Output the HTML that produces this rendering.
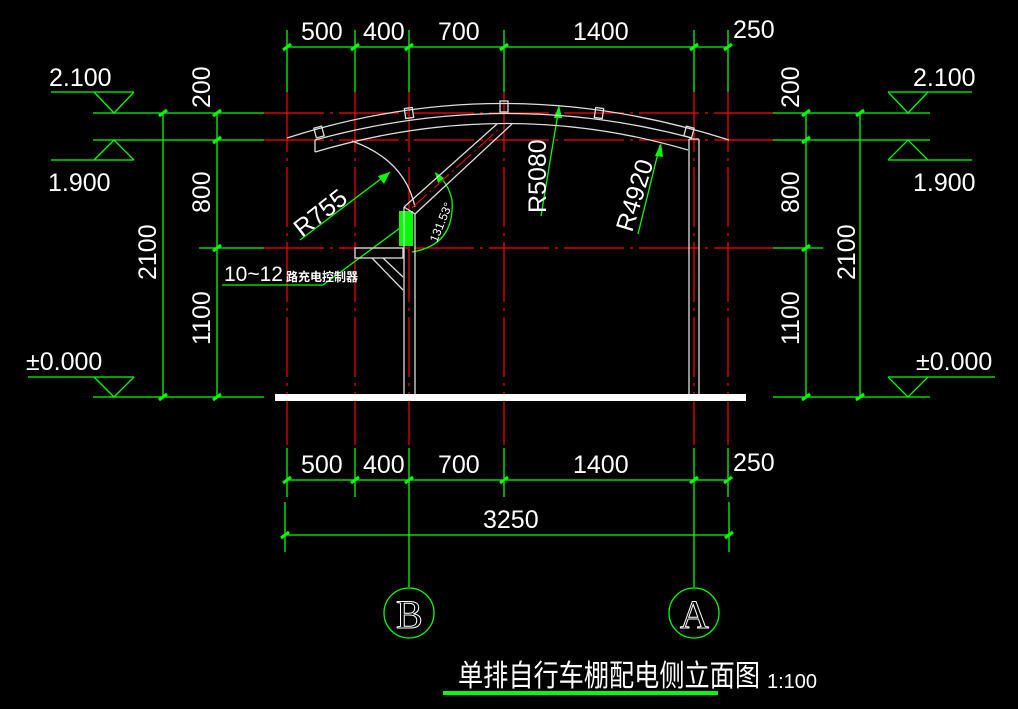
<!DOCTYPE html>
<html><head><meta charset="utf-8"><style>
html,body{margin:0;padding:0;background:#000;width:1018px;height:709px;overflow:hidden}
svg{display:block}
text{font-family:"Liberation Sans","Noto Sans CJK SC",sans-serif;fill:#fff}
text.ol{fill:none;stroke:#fff;stroke-width:1;font-family:"Liberation Serif",serif}
</style></head><body>
<svg width="1018" height="709" viewBox="0 0 1018 709" xmlns="http://www.w3.org/2000/svg">
<g stroke="#f00" stroke-width="1.2" fill="none" stroke-dasharray="60 6 3 6">
<line x1="264" y1="113" x2="775" y2="113"/>
<line x1="264" y1="140" x2="775" y2="140"/>
<line x1="264" y1="248" x2="775" y2="248"/>
<line x1="287" y1="92" x2="287" y2="445"/>
<line x1="355" y1="92" x2="355" y2="445"/>
<line x1="409" y1="92" x2="409" y2="445"/>
<line x1="504" y1="92" x2="504" y2="445"/>
<line x1="694" y1="92" x2="694" y2="445"/>
<line x1="728" y1="92" x2="728" y2="445"/>
</g>
<g stroke="#0f0" stroke-width="1.3" fill="none">
<line x1="51" y1="92" x2="134" y2="92"/><polyline points="94,92 114,113 134,92"/>
<line x1="51" y1="160" x2="134" y2="160"/><polyline points="94,160 114,140 134,160"/>
<line x1="28" y1="377" x2="134" y2="377"/><polyline points="94,377 114,397 134,377"/>
<line x1="93" y1="113" x2="264" y2="113"/>
<line x1="93" y1="140" x2="264" y2="140"/>
<line x1="199" y1="248" x2="264" y2="248"/>
<line x1="93" y1="397" x2="264" y2="397"/>
<line x1="163" y1="113" x2="163" y2="397"/>
<line x1="217" y1="113" x2="217" y2="397"/>
<line x1="888" y1="92" x2="972" y2="92"/><polyline points="888,92 908,113 928,92"/>
<line x1="888" y1="160" x2="972" y2="160"/><polyline points="888,160 908,140 928,160"/>
<line x1="888" y1="377" x2="995" y2="377"/><polyline points="888,377 908,397 928,377"/>
<line x1="773" y1="113" x2="930" y2="113"/>
<line x1="773" y1="140" x2="930" y2="140"/>
<line x1="773" y1="248" x2="823" y2="248"/>
<line x1="773" y1="397" x2="930" y2="397"/>
<line x1="806" y1="113" x2="806" y2="397"/>
<line x1="860" y1="113" x2="860" y2="397"/>
<line x1="287" y1="47" x2="728" y2="47"/>
<line x1="287" y1="30" x2="287" y2="92"/><line x1="355" y1="30" x2="355" y2="92"/>
<line x1="409" y1="30" x2="409" y2="92"/><line x1="504" y1="30" x2="504" y2="92"/>
<line x1="694" y1="30" x2="694" y2="92"/><line x1="728" y1="30" x2="728" y2="92"/>
<line x1="287" y1="480" x2="728" y2="480"/>
<line x1="287" y1="448" x2="287" y2="497"/><line x1="355" y1="448" x2="355" y2="497"/>
<line x1="504" y1="448" x2="504" y2="497"/><line x1="728" y1="448" x2="728" y2="497"/>
<line x1="287" y1="535" x2="728" y2="535"/>
<line x1="285" y1="502" x2="285" y2="552"/><line x1="729" y1="502" x2="729" y2="552"/>
<line x1="409" y1="448" x2="409" y2="587"/><line x1="694" y1="448" x2="694" y2="587"/>
<circle cx="409" cy="613" r="25"/><circle cx="694" cy="613" r="25"/>
<polyline points="222,285 323,285 400,228"/>
<line x1="300" y1="240" x2="390" y2="172"/>
<line x1="541" y1="216" x2="559" y2="107"/>
<line x1="638" y1="234" x2="660" y2="145"/>
<path d="M412,252 Q455,245 452,200 Q448,182 435,173"/>
</g>
<g fill="#0f0">
<polygon points="390,172 378,176 384,184"/>
<polygon points="559,105 554,118 562,118"/>
<polygon points="661,143 655,156 663,157"/>
<polygon points="435,172 438,183 444,178"/>
<rect x="399" y="211" width="14" height="35"/>
<rect x="443" y="691" width="275" height="4"/>
</g>
<g stroke="#0f0" stroke-width="3">
<path d="M159,116l8,-6M213,116l8,-6M213,143l8,-6M213,251l8,-6M159,400l8,-6M213,400l8,-6M802,116l8,-6M856,116l8,-6M802,143l8,-6M802,251l8,-6M802,400l8,-6M856,400l8,-6M283,50l8,-6M351,50l8,-6M405,50l8,-6M500,50l8,-6M690,50l8,-6M724,50l8,-6M283,483l8,-6M351,483l8,-6M405,483l8,-6M500,483l8,-6M690,483l8,-6M724,483l8,-6M281,538l8,-6M725,538l8,-6"/>
</g>
<g stroke="#ddd" stroke-width="1.3" fill="none">
<path d="M287,138 Q504,68 729,140"/>
<path d="M315,140 Q504,88 692,138"/>
<path d="M315,152 Q504,96 688,150"/>
<line x1="315" y1="140" x2="315" y2="152"/>
<path d="M352,141 Q405,160 415,207"/>
<line x1="404" y1="207" x2="497" y2="124"/>
<line x1="415" y1="214" x2="512" y2="124"/>
<line x1="404" y1="207" x2="415" y2="214"/>
<line x1="404" y1="207" x2="404" y2="394"/>
<line x1="415" y1="214" x2="415" y2="394"/>
<line x1="689" y1="139" x2="689" y2="394"/>
<line x1="699" y1="139" x2="699" y2="394"/>
<line x1="689" y1="139" x2="699" y2="139"/>
<rect x="355" y="248" width="48" height="10"/>
<line x1="372" y1="258" x2="403" y2="290"/>
<line x1="383" y1="258" x2="403" y2="277"/>
<rect x="315" y="127" width="8" height="10" transform="rotate(-15 319 132)"/>
<rect x="405" y="108" width="8" height="10" transform="rotate(-8 409 113)"/>
<rect x="500" y="101" width="8" height="11"/>
<rect x="595" y="108" width="8" height="10" transform="rotate(8 599 113)"/>
<rect x="685" y="127" width="8" height="10" transform="rotate(15 689 132)"/>
</g>
<line x1="412" y1="208" x2="500" y2="128" stroke="#f00" stroke-width="1" stroke-dasharray="20 4 2 4"/>
<rect x="275" y="394" width="471" height="7" fill="#fff"/>
<g font-size="25">
<text x="49" y="86">2.100</text>
<text x="48" y="191">1.900</text>
<text x="26" y="370">±0.000</text>
<text x="913" y="86">2.100</text>
<text x="913" y="191">1.900</text>
<text x="916" y="370">±0.000</text>
<text x="301" y="40">500</text><text x="363" y="40">400</text>
<text x="438" y="40">700</text><text x="573" y="40">1400</text>
<text x="733" y="38">250</text>
<text x="301" y="473">500</text><text x="363" y="473">400</text>
<text x="438" y="473">700</text><text x="573" y="473">1400</text>
<text x="733" y="471">250</text>
<text x="483" y="528">3250</text>
<text x="224" y="281" font-size="21">10~12</text>
</g>
<text x="286" y="281" font-size="12" font-weight="bold">路充电控制器</text>
<g font-size="25">
<text transform="translate(210,108) rotate(-90)">200</text>
<text transform="translate(210,213) rotate(-90)">800</text>
<text transform="translate(210,345) rotate(-90)">1100</text>
<text transform="translate(156,280) rotate(-90)">2100</text>
<text transform="translate(799,108) rotate(-90)">200</text>
<text transform="translate(799,213) rotate(-90)">800</text>
<text transform="translate(799,345) rotate(-90)">1100</text>
<text transform="translate(855,280) rotate(-90)">2100</text>
<text transform="translate(302,238) rotate(-38)">R755</text>
<text transform="translate(546,213) rotate(-90)">R5080</text>
<text transform="translate(632,233) rotate(-73)">R4920</text>
</g>
<text transform="translate(437,243) rotate(-68)" font-size="12">131.53°</text>
<text class="ol" x="396" y="628" font-size="40">B</text>
<text class="ol" x="680" y="628" font-size="40">A</text>
<text x="458" y="686" font-size="30" textLength="302" lengthAdjust="spacingAndGlyphs">单排自行车棚配电侧立面图</text>
<text x="767" y="688" font-size="20">1:100</text>
</svg>
</body></html>
